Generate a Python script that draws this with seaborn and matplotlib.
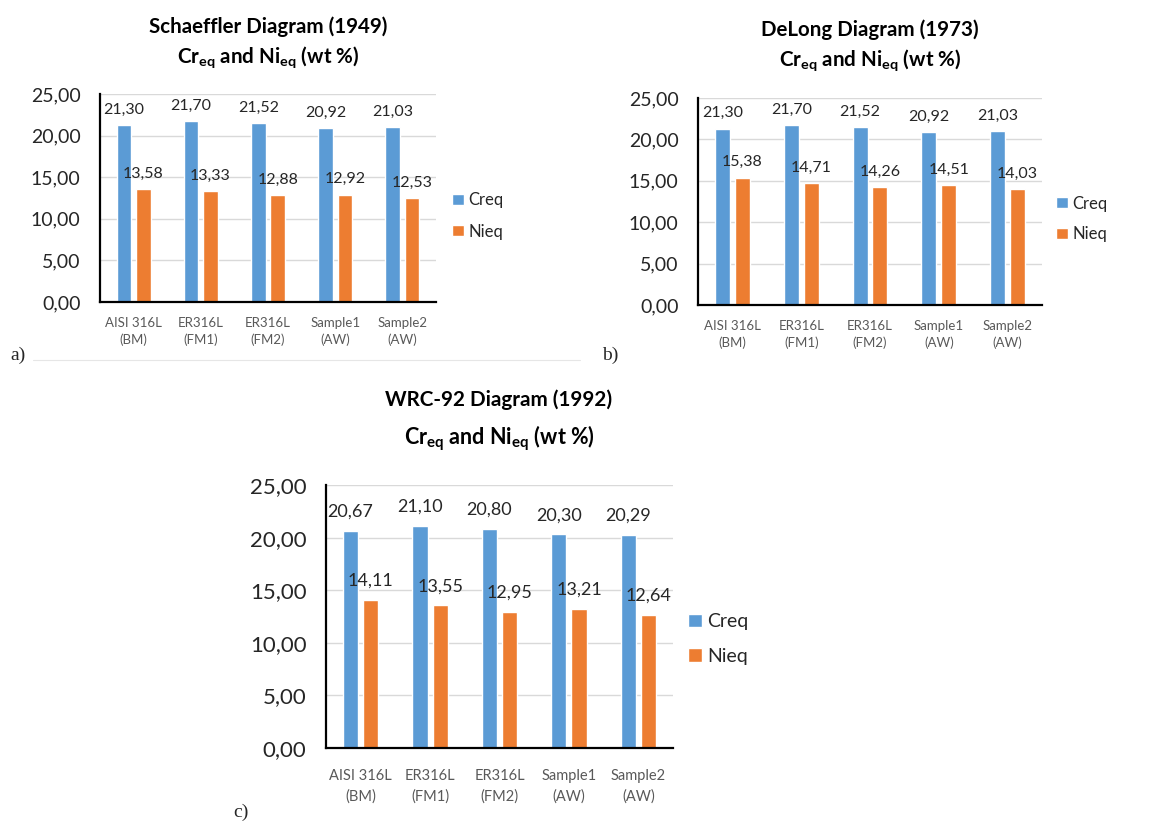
import matplotlib
matplotlib.use("Agg")
import matplotlib.pyplot as plt
from matplotlib.lines import Line2D
import seaborn as sns
import pandas as pd

samples = ["AISI 316L\n(BM)", "ER316L\n(FM1)", "ER316L\n(FM2)", "Sample1\n(AW)", "Sample2\n(AW)"]
series_names = ["Creq", "Nieq"]

schaeffler_creq = [21.30, 21.70, 21.52, 20.92, 21.03]
schaeffler_nieq = [13.58, 13.33, 12.88, 12.92, 12.53]

delong_creq = [21.30, 21.70, 21.52, 20.92, 21.03]
delong_nieq = [15.38, 14.71, 14.26, 14.51, 14.03]

wrc_creq = [20.67, 21.10, 20.80, 20.30, 20.29]
wrc_nieq = [14.11, 13.55, 12.95, 13.21, 12.64]

titles = ["Schaeffler Diagram (1949)", "DeLong Diagram (1973)", "WRC-92 Diagram (1992)"]
subtitle = r"Cr$_{\mathregular{eq}}$ and Ni$_{\mathregular{eq}}$ (wt %)"
y_ticks = [0, 5, 10, 15, 20, 25]

BLUE = "#5B9BD5"
ORANGE = "#ED7D31"

sns.set_theme(style="white")
plt.rcParams["font.family"] = ["Lato", "DejaVu Sans"]

W, H = 1169, 821
fig = plt.figure(figsize=(W / 100, H / 100), dpi=100)


def px_axes(left, top, right, bottom):
    return fig.add_axes([left / W, 1 - bottom / H, (right - left) / W, (bottom - top) / H])


def fmt(v):
    return f"{v:.2f}".replace(".", ",")


def draw_panel(ax, creq, nieq, title, title_xy, title_dy, tsize, ssize, fs, lab_pad,
               xpad, xls, legend_xy, legend_fs, legend_sp):
    df = pd.DataFrame({
        "sample": samples * 2,
        "series": [series_names[0]] * len(samples) + [series_names[1]] * len(samples),
        "value": list(creq) + list(nieq),
    })
    sns.barplot(data=df, x="sample", y="value", hue="series", palette=[BLUE, ORANGE],
                width=0.58, gap=0.25, ax=ax, saturation=1, legend=True)
    for cont, vals in zip(ax.containers, [creq, nieq]):
        ax.bar_label(cont, labels=[fmt(v) for v in vals], padding=lab_pad,
                     fontsize=fs["data"], color="#262626")
    ax.set_ylim(0, 25)
    ax.set_xlim(-0.5, len(samples) - 0.5)
    ax.set_yticks(y_ticks)
    ax.set_yticklabels([fmt(v) for v in y_ticks], fontsize=fs["ytick"], color="#262626")
    ax.tick_params(axis="y", length=0, pad=14)
    ax.tick_params(axis="x", length=0, pad=xpad, labelsize=fs["xtick"], labelcolor="#595959")
    for t in ax.get_xticklabels():
        t.set_linespacing(xls)
    ax.set_xlabel("")
    ax.set_ylabel("")
    ax.yaxis.grid(True, color="#D9D9D9", lw=1)
    ax.set_axisbelow(True)
    for s in ["top", "right"]:
        ax.spines[s].set_visible(False)
    for s in ["left", "bottom"]:
        ax.spines[s].set_color("black")
        ax.spines[s].set_linewidth(1.6)
    handles, labels = ax.get_legend_handles_labels()
    ax.legend(handles, labels, loc="center left",
              bbox_to_anchor=(legend_xy[0] / W, 1 - legend_xy[1] / H),
              bbox_transform=fig.transFigure, frameon=False, fontsize=legend_fs,
              handlelength=0.7, handleheight=0.7, handletextpad=0.3,
              labelspacing=legend_sp, borderpad=0, borderaxespad=0,
              labelcolor="#262626")
    tx, ty = title_xy
    fig.text(tx / W, 1 - ty / H, title, ha="center", va="center",
             fontsize=tsize, fontweight="bold", color="black")
    fig.text(tx / W, 1 - (ty + title_dy) / H, subtitle, ha="center", va="center",
             fontsize=ssize, fontweight="bold", color="black")


fs_ab = {"data": 11.5, "ytick": 14, "xtick": 9.5}
fs_c = {"data": 13, "ytick": 16, "xtick": 10.5}

ax_a = px_axes(100, 94, 436, 302)
draw_panel(ax_a, schaeffler_creq, schaeffler_nieq, titles[0], (268, 27), 30, 14.8, 14.8,
           fs_ab, 6, 11, 1.35, (452, 216), 12, 0.9)

ax_b = px_axes(698, 98, 1042, 305)
draw_panel(ax_b, delong_creq, delong_nieq, titles[1], (870, 30), 30, 14.8, 14.8,
           fs_ab, 6, 11, 1.35, (1056, 219), 12, 0.9)

ax_c = px_axes(326, 485, 673, 748)
draw_panel(ax_c, wrc_creq, wrc_nieq, titles[2], (499, 400), 38, 14.9, 15.5,
           fs_c, 8, 15, 1.6, (688, 639), 14, 0.9)

serif = ["Liberation Serif", "DejaVu Serif"]
fig.text(10 / W, 1 - 355 / H, "a)", ha="left", va="center", fontsize=14, family=serif)
fig.text(602 / W, 1 - 355 / H, "b)", ha="left", va="center", fontsize=14, family=serif)
fig.text(233 / W, 1 - 812 / H, "c)", ha="left", va="center", fontsize=14, family=serif)

fig.add_artist(Line2D([33 / W, 580 / W], [1 - 360 / H, 1 - 360 / H],
                      transform=fig.transFigure, color="#E6E6E6", lw=0.8))

fig.savefig("out.png", dpi=100, facecolor="white")
